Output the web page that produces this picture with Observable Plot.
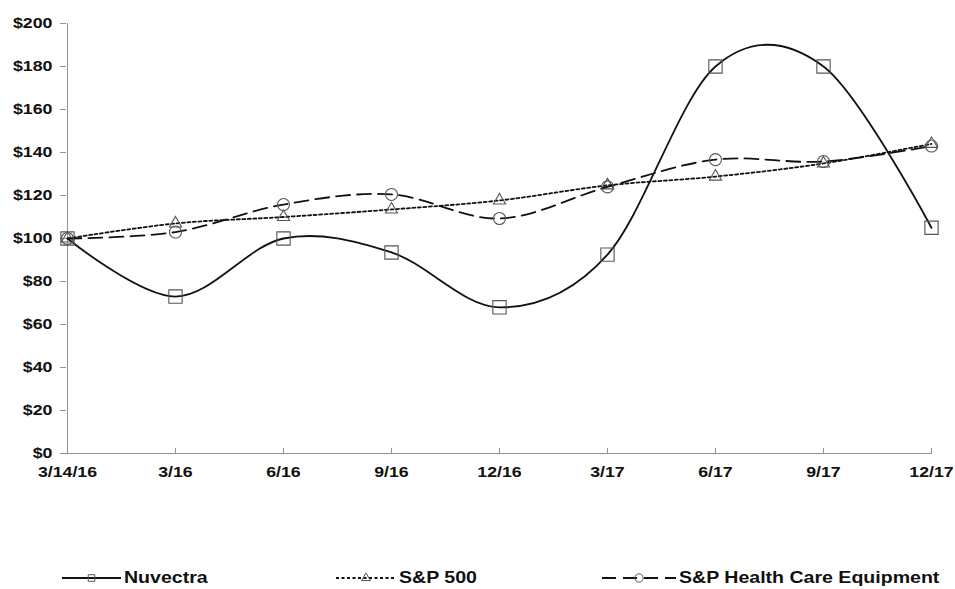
<!DOCTYPE html>
<html>
<head>
<meta charset="utf-8">
<script src="https://cdn.jsdelivr.net/npm/d3@7"></script>
<script src="https://cdn.jsdelivr.net/npm/@observablehq/plot@0.6"></script>
<style>
  body { margin: 0; background: #fff; font-family: "Liberation Sans", Arial, sans-serif; }
  #chart svg { display: block; }
  #legend { position: relative; height: 24px; margin-top: 76px; font-weight: bold; font-size: 17px; color: #111; }
  .item { position: absolute; top: 0; height: 24px; display: flex; align-items: center; white-space: nowrap; }
  .item svg { display: block; margin-right: 3px; }
  .item span { display: inline-block; transform: scaleX(1.15); transform-origin: left center; line-height: 20px; }
</style>
</head>
<body>
<div id="chart"></div>
<div id="legend"></div>
<script>
const periods = ["3/14/16", "3/16", "6/16", "9/16", "12/16", "3/17", "6/17", "9/17", "12/17"];
const nuvectra = [100, 73, 100, 93.5, 68, 92.5, 180, 180, 105];
const sp500 = [100, 107, 110, 113.5, 117.7, 124.7, 128.8, 134.9, 144];
const spHealth = [100, 103, 115.8, 120.5, 109.3, 124, 136.7, 135.8, 143];
const seriesNames = ["Nuvectra", "S&P 500", "S&P Health Care Equipment"];
const yTicks = [0, 20, 40, 60, 80, 100, 120, 140, 160, 180, 200];

const styles = {
  "Nuvectra": { dash: null, symbol: "square", r: 7.5 },
  "S&P 500": { dash: "3,2.5", symbol: "triangle", r: 4.5 },
  "S&P Health Care Equipment": { dash: "14,7", symbol: "circle", r: 6 }
};

const rows = [];
[nuvectra, sp500, spHealth].forEach((vals, i) => {
  vals.forEach((v, j) => rows.push({ series: seriesNames[i], period: periods[j], value: v }));
});

const axisColor = "#9c8f9c";
const marks = [
  Plot.ruleX([periods[0]], { y1: 0, y2: 200, stroke: axisColor }),
  Plot.ruleY([0], { stroke: axisColor }),
  Plot.axisY({ ticks: yTicks, tickFormat: d => "$" + d, tickSize: 6, tickPadding: 8, fontSize: 14, fontWeight: "bold", fill: "#111", stroke: axisColor }),
  Plot.axisX({ tickSize: -5, tickPadding: 18, fontSize: 15, fontWeight: "bold", fill: "#111", stroke: axisColor })
];
for (const name of seriesNames) {
  const data = rows.filter(r => r.series === name);
  const s = styles[name];
  marks.push(Plot.line(data, { x: "period", y: "value", curve: "cardinal", stroke: "#111", strokeWidth: 1.8, strokeDasharray: s.dash }));
  marks.push(Plot.dot(data, { x: "period", y: "value", symbol: s.symbol, r: s.r, stroke: "#555", strokeWidth: 1.1, fill: "none" }));
}

const chart = Plot.plot({
  width: 955,
  height: 490,
  marginLeft: 66,
  marginRight: 23,
  marginTop: 23,
  marginBottom: 37,
  style: { fontFamily: "Liberation Sans, Arial, sans-serif", background: "#fff" },
  x: { type: "point", domain: periods, padding: 0, label: null },
  y: { domain: [0, 200], label: null },
  marks
});
document.getElementById("chart").appendChild(chart);

// stretch tick labels horizontally like the reference
chart.querySelectorAll('g[aria-label="y-axis tick label"] text').forEach(t => {
  t.setAttribute("transform", (t.getAttribute("transform") || "") + " scale(1.27,1)");
});
chart.querySelectorAll('g[aria-label="x-axis tick label"] text').forEach(t => {
  t.setAttribute("transform", (t.getAttribute("transform") || "") + " scale(1.18,1)");
});

// legend
const legendPos = [
  { name: "Nuvectra", left: 62, w: 59 },
  { name: "S&P 500", left: 336, w: 60 },
  { name: "S&P Health Care Equipment", left: 602, w: 74 }
];
const legend = document.getElementById("legend");
for (const p of legendPos) {
  const s = styles[p.name];
  const div = document.createElement("div");
  div.className = "item";
  div.style.left = p.left + "px";
  const sw = d3.create("svg").attr("width", p.w).attr("height", 20);
  sw.append("line").attr("x1", 0).attr("x2", p.w).attr("y1", 10).attr("y2", 10)
    .attr("stroke", "#111").attr("stroke-width", 1.8).attr("stroke-dasharray", s.dash);
  const type = s.symbol === "square" ? d3.symbolSquare2 : s.symbol === "triangle" ? d3.symbolTriangle2 : d3.symbolCircle;
  sw.append("path").attr("d", d3.symbol().type(type).size(55)()).attr("transform", `translate(${p.w / 2},10)`)
    .attr("fill", "none").attr("stroke", "#555").attr("stroke-width", 1);
  div.appendChild(sw.node());
  const t = document.createElement("span");
  t.textContent = p.name;
  div.appendChild(t);
  legend.appendChild(div);
}
</script>
</body>
</html>
